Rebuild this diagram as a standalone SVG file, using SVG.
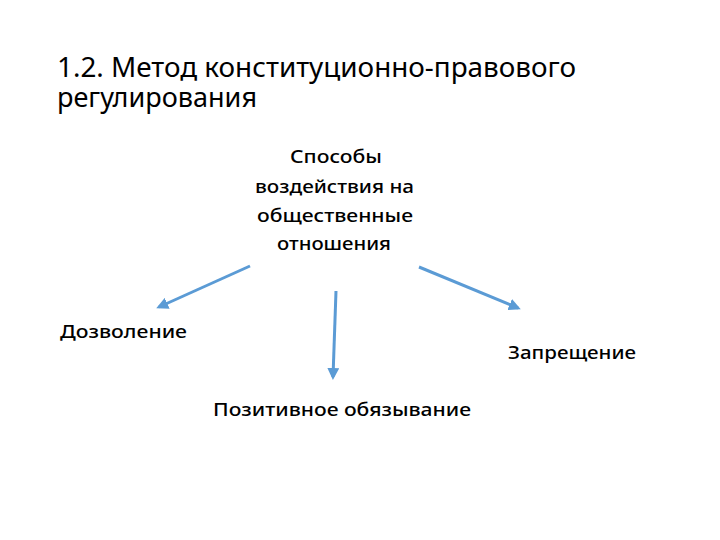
<svg xmlns="http://www.w3.org/2000/svg" width="720" height="540" viewBox="0 0 720 540">
<defs>
<style>
.t{font-family:"Noto Sans","Open Sans","DejaVu Sans",sans-serif;fill:#000}
.title{font-size:27px}
.lbl{font-size:18px;font-weight:500}
.c{stroke:#5b9bd5;stroke-width:3;fill:none;marker-end:url(#ah)}
</style>
<marker id="ah" markerWidth="4" markerHeight="4" refX="3" refY="2" orient="auto" markerUnits="strokeWidth">
<path d="M0,0 L4,2 L0,4 z" fill="#5b9bd5"/>
</marker>
</defs>
<rect width="720" height="540" fill="#fff"/>
<g id="title">
<text class="t title" x="57" y="77" textLength="519" lengthAdjust="spacingAndGlyphs">1.2. Метод конституционно-правового</text>
<text class="t title" x="57" y="107" textLength="200" lengthAdjust="spacingAndGlyphs">регулирования</text>
</g>
<g id="root">
<text class="t lbl" x="290" y="163" textLength="92" lengthAdjust="spacingAndGlyphs">Способы</text>
<text class="t lbl" x="255" y="193" textLength="159" lengthAdjust="spacingAndGlyphs">воздействия на</text>
<text class="t lbl" x="257" y="222" textLength="156" lengthAdjust="spacingAndGlyphs">общественные</text>
<text class="t lbl" x="277" y="250" textLength="114" lengthAdjust="spacingAndGlyphs">отношения</text>
</g>
<g id="connectors">
<line class="c" x1="250" y1="266" x2="159" y2="307"/>
<line class="c" x1="336" y1="291" x2="333" y2="377"/>
<line class="c" x1="419" y1="267" x2="518" y2="308"/>
</g>
<g id="permission">
<text class="t lbl" x="60" y="338" textLength="127" lengthAdjust="spacingAndGlyphs">Дозволение</text>
</g>
<g id="obligation">
<text class="t lbl" x="213" y="416" textLength="258" lengthAdjust="spacingAndGlyphs">Позитивное обязывание</text>
</g>
<g id="prohibition">
<text class="t lbl" x="508" y="359" textLength="128" lengthAdjust="spacingAndGlyphs">Запрещение</text>
</g>
</svg>
